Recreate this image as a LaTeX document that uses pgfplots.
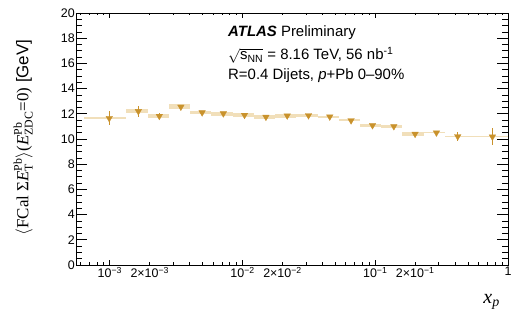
\documentclass[border=0pt]{standalone}
\usepackage{amsmath}
\usepackage{fontspec}
\setmainfont{Liberation Sans}
\newfontfamily\serif{Liberation Serif}
\usepackage{pgfplots}
\usepackage{pgfplotstable}
\pgfplotsset{compat=1.18}
\definecolor{mc}{HTML}{C9922C}
\definecolor{boxc}{HTML}{F1DFBA}
\pgfplotstableread{
x y e
9.9e-4 11.65 0.55
1.64e-3 12.20 0.44
2.36e-3 11.82 0.25
3.43e-3 12.55 0.10
4.96e-3 12.10 0.10
7.17e-3 12.02 0.10
1.035e-2 11.90 0.10
1.50e-2 11.75 0.10
2.17e-2 11.85 0.10
3.14e-2 11.87 0.10
4.54e-2 11.77 0.10
6.57e-2 11.47 0.10
9.53e-2 11.08 0.10
0.138 11.00 0.12
0.1995 10.40 0.10
0.289 10.50 0.10
0.418 10.20 0.33
0.763 10.18 0.66
}\datatable
\begin{document}
\begin{tikzpicture}
\useasboundingbox (0,0) rectangle (518bp,321bp);
\begin{axis}[
  at={(76bp,56bp)}, anchor=south west,
  width=432bp, height=252bp, scale only axis,
  xmode=log, xmin=5.56e-4, xmax=1,
  ymin=0, ymax=20,
  axis line style={line width=0.9bp},
  tick align=inside,
  tick style={black, line width=0.7bp},
  xtick={1e-3,1e-2,1e-1,1},
  xticklabels={10\textsuperscript{−3},10\textsuperscript{−2},10\textsuperscript{−1},1},
  minor xtick={6e-4,7e-4,8e-4,9e-4,2e-3,3e-3,4e-3,5e-3,6e-3,7e-3,8e-3,9e-3,2e-2,3e-2,4e-2,5e-2,6e-2,7e-2,8e-2,9e-2,0.2,0.3,0.4,0.5,0.6,0.7,0.8,0.9},
  extra x ticks={2e-3,2e-2,2e-1},
  extra x tick labels={2×10\textsuperscript{−3},2×10\textsuperscript{−2},2×10\textsuperscript{−1}},
  extra x tick style={xtick style={/pgfplots/major tick length=2.5bp}},
  xtick style={/pgfplots/major tick length=5bp},
  every minor x tick/.append style={/pgfplots/minor tick length=2.5bp},
  ytick={0,2,...,20},
  minor y tick num=3,
  ytick style={/pgfplots/major tick length=11.5bp},
  every minor y tick/.append style={/pgfplots/minor tick length=6bp},
  /pgf/number format/assume math mode=true,
  tick label style={font=\fontsize{12.5}{14}\selectfont},
  yticklabel style={inner xsep=1bp},
  xticklabel style={inner ysep=2bp},
  xlabel={$\text{\serif\itshape x}_{\text{\serif\itshape p}}$},
  xlabel style={at={(axis description cs:0.962,-0.145)}, anchor=center, font=\fontsize{20}{22}\selectfont},
  ylabel={{\serif $\langle$FCal Σ}$\text{\serif\itshape E}^{\text{\serif Pb}}_{\text{\serif T}}${\serif $\rangle$(}$\text{\serif\itshape E}^{\text{\serif Pb}}_{\text{\serif ZDC}}${\serif =0)} [GeV]},
  ylabel style={at={(axis description cs:-0.122,0.506)}, anchor=center, font=\fontsize{17}{19}\selectfont},
]
\addplot[fill=boxc, draw=none] coordinates {(6.38e-4,11.57)(1.334e-3,11.57)(1.334e-3,11.73)(6.38e-4,11.73)} --cycle;
\addplot[fill=boxc, draw=none] coordinates {(1.334e-3,12.04)(1.928e-3,12.04)(1.928e-3,12.36)(1.334e-3,12.36)} --cycle;
\addplot[fill=boxc, draw=none] coordinates {(1.928e-3,11.63)(2.786e-3,11.63)(2.786e-3,12.01)(1.928e-3,12.01)} --cycle;
\addplot[fill=boxc, draw=none] coordinates {(2.786e-3,12.36)(4.027e-3,12.36)(4.027e-3,12.74)(2.786e-3,12.74)} --cycle;
\addplot[fill=boxc, draw=none] coordinates {(4.027e-3,11.97)(5.821e-3,11.97)(5.821e-3,12.23)(4.027e-3,12.23)} --cycle;
\addplot[fill=boxc, draw=none] coordinates {(5.821e-3,11.86)(8.414e-3,11.86)(8.414e-3,12.18)(5.821e-3,12.18)} --cycle;
\addplot[fill=boxc, draw=none] coordinates {(8.414e-3,11.77)(1.216e-2,11.77)(1.216e-2,12.03)(8.414e-3,12.03)} --cycle;
\addplot[fill=boxc, draw=none] coordinates {(1.216e-2,11.58)(1.758e-2,11.58)(1.758e-2,11.92)(1.216e-2,11.92)} --cycle;
\addplot[fill=boxc, draw=none] coordinates {(1.758e-2,11.69)(2.541e-2,11.69)(2.541e-2,12.01)(1.758e-2,12.01)} --cycle;
\addplot[fill=boxc, draw=none] coordinates {(2.541e-2,11.74)(3.673e-2,11.74)(3.673e-2,12.00)(2.541e-2,12.00)} --cycle;
\addplot[fill=boxc, draw=none] coordinates {(3.673e-2,11.68)(5.309e-2,11.68)(5.309e-2,11.86)(3.673e-2,11.86)} --cycle;
\addplot[fill=boxc, draw=none] coordinates {(5.309e-2,11.39)(7.674e-2,11.39)(7.674e-2,11.55)(5.309e-2,11.55)} --cycle;
\addplot[fill=boxc, draw=none] coordinates {(7.674e-2,10.96)(0.1109,10.96)(0.1109,11.20)(7.674e-2,11.20)} --cycle;
\addplot[fill=boxc, draw=none] coordinates {(0.1109,10.91)(0.1603,10.91)(0.1603,11.09)(0.1109,11.09)} --cycle;
\addplot[fill=boxc, draw=none] coordinates {(0.1603,10.27)(0.2317,10.27)(0.2317,10.53)(0.1603,10.53)} --cycle;
\addplot[fill=boxc, draw=none] coordinates {(0.2317,10.45)(0.3350,10.45)(0.3350,10.55)(0.2317,10.55)} --cycle;
\addplot[fill=boxc, draw=none] coordinates {(0.3350,10.16)(0.4842,10.16)(0.4842,10.24)(0.3350,10.24)} --cycle;
\addplot[fill=boxc, draw=none] coordinates {(0.4842,10.13)(1,10.13)(1,10.23)(0.4842,10.23)} --cycle;
\addplot[only marks, color=mc, mark=triangle*, mark size=3.8bp,
  mark options={rotate=180, fill=mc, draw=mc, line width=0.3bp},
  error bars/.cd, y dir=both, y explicit, error mark=none,
  error bar style={line width=0.8bp, color=mc}]
  table[x=x, y=y, y error=e] {\datatable};
\end{axis}
\node[anchor=base west, font=\fontsize{15}{18}\selectfont, inner sep=0pt] at (228bp,284bp) {\textbf{\textit{ATLAS}} Preliminary};
\node[anchor=base west, font=\fontsize{15}{18}\selectfont, inner sep=0pt] at (228bp,261bp) {$\sqrt{\text{s}_{\text{NN}}}$ = 8.16 TeV, 56 nb\textsuperscript{-1}};
\node[anchor=base west, font=\fontsize{15}{18}\selectfont, inner sep=0pt] at (228bp,241bp) {R=0.4 Dijets, \textit{p}+Pb 0–90\%};
\end{tikzpicture}
\end{document}
